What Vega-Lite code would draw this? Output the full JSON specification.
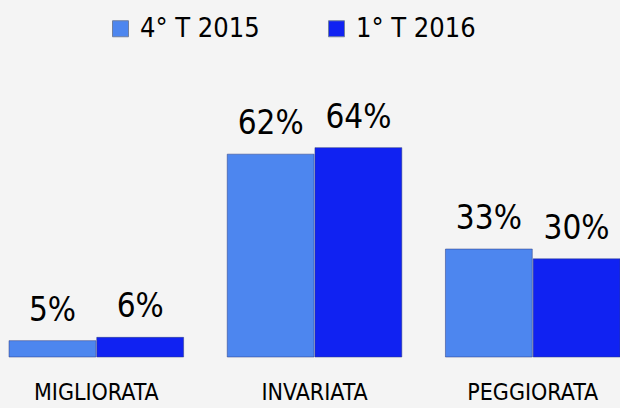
{
  "$schema": "https://vega.github.io/schema/vega-lite/v6.json",
  "autosize": {"type": "none"},
  "padding": {"left": 0, "top": 128, "right": 0, "bottom": 51},
  "width": 620,
  "height": 229,
  "background": "#f4f4f4",
  "config": {"view": {"stroke": null}, "font": "'DejaVu Sans Condensed', 'DejaVu Sans', sans-serif"},
  "data": {"values": [
    {"cat": "MIGLIORATA", "serie": "4° T 2015", "v": 0.05},
    {"cat": "MIGLIORATA", "serie": "1° T 2016", "v": 0.06},
    {"cat": "INVARIATA", "serie": "4° T 2015", "v": 0.62},
    {"cat": "INVARIATA", "serie": "1° T 2016", "v": 0.64},
    {"cat": "PEGGIORATA", "serie": "4° T 2015", "v": 0.33},
    {"cat": "PEGGIORATA", "serie": "1° T 2016", "v": 0.30}
  ]},
  "encoding": {
    "x": {"field": "cat", "type": "nominal", "sort": ["MIGLIORATA", "INVARIATA", "PEGGIORATA"],
      "scale": {"paddingInner": 0.2, "paddingOuter": 0.0207, "align": 1},
      "axis": {"title": null, "domain": false, "ticks": false, "labelAngle": 0, "labelFontSize": 23, "labelColor": "#000", "labelPadding": 24, "labelFont": "'DejaVu Sans Condensed', 'DejaVu Sans', sans-serif"}},
    "xOffset": {"field": "serie", "type": "nominal", "sort": ["4° T 2015", "1° T 2016"], "scale": {"paddingInner": 0.01}},
    "y": {"field": "v", "type": "quantitative", "scale": {"domain": [0, 0.7]}, "axis": null}
  },
  "layer": [
    {
      "mark": {"type": "bar", "stroke": "#2a3a80", "strokeWidth": 1, "strokeOpacity": 0.5},
      "encoding": {
        "color": {"field": "serie", "type": "nominal", "sort": ["4° T 2015", "1° T 2016"],
          "scale": {"domain": ["4° T 2015", "1° T 2016"], "range": ["#4d86ef", "#1022f2"]},
          "legend": {"title": null, "orient": "none", "legendX": 107, "legendY": -113, "direction": "horizontal",
            "symbolType": "square", "symbolSize": 256, "symbolStrokeColor": "#7080a0", "symbolStrokeWidth": 1,
            "labelFontSize": 27, "labelColor": "#000", "labelFont": "'DejaVu Sans Condensed', 'DejaVu Sans', sans-serif", "labelOffset": 6, "columnPadding": 63, "labelLimit": 200}}
      }
    },
    {
      "mark": {"type": "text", "fontSize": 33, "dy": -20, "baseline": "alphabetic", "color": "#000"},
      "encoding": {"text": {"field": "v", "type": "quantitative", "format": ".0%"}}
    }
  ]
}
